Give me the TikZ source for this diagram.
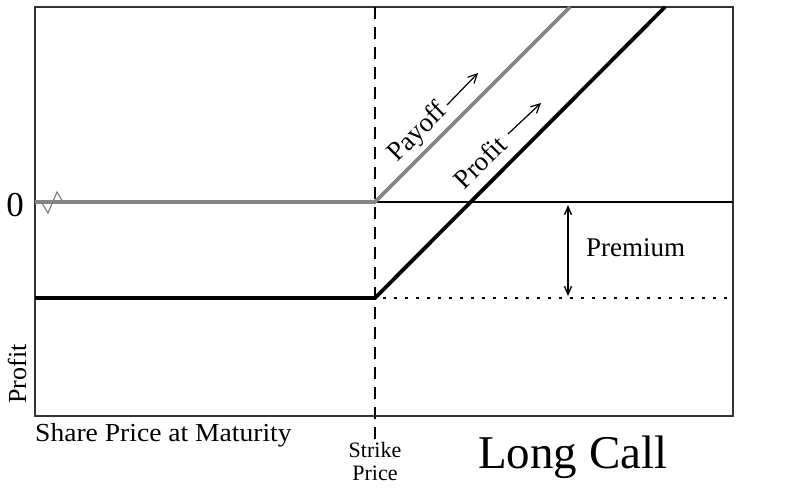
\documentclass[tikz,border=0pt]{standalone}
\usepackage{fontspec}
\setmainfont{Liberation Serif}
\usetikzlibrary{arrows.meta}
\begin{document}
\begin{tikzpicture}[x=1pt,y=-1pt,
  frame/.style={draw=black!80,line width=2pt},
  payoffline/.style={draw=black!48,line width=3.8pt},
  profitline/.style={draw=black,line width=3.8pt},
  strikeline/.style={draw=black,line width=1.6pt,dash pattern=on 12pt off 8pt},
  lbl/.style={inner sep=0pt,font=\fontsize{26}{28}\selectfont},
  tip/.style={-{Straight Barb[length=9pt,width=9pt]},line width=1.2pt}]
\useasboundingbox (0,0) rectangle (788,498);
% key points
\coordinate (tl) at (35,7);
\coordinate (br) at (733,416);
\coordinate (z0) at (35,202);
\coordinate (z1) at (733,202);
\coordinate (k0) at (375,202);
\coordinate (kp) at (375,298);
\coordinate (p0) at (35,298);
\coordinate (pe) at (733,298);
\coordinate (st) at (375,7);
\coordinate (sb) at (375,442);
\coordinate (payend) at (570,7);
\coordinate (proend) at (665,7);
% frame
\draw[frame] (tl) rectangle (br);
% zero axis
\draw[line width=1.5pt] (z0) -- (z1);
% strike dashed
\draw[strikeline] (st) -- (sb);
% premium dotted
\draw[line width=1.6pt,dash pattern=on 3pt off 8pt] (kp) ++(8,0) -- (pe);
% payoff
\draw[payoffline,line join=miter] (z0) -- (k0) -- (payend);
% profit
\draw[profitline,line join=miter] (p0) -- (kp) -- (proend);
% zigzag
\draw[black!50,line width=1.2pt] (42,203) -- (48,213) -- (57,192) -- (63,202);
% premium arrow
\coordinate (pa) at (568,205);
\coordinate (pb) at (568,296);
\draw[{Straight Barb[length=8pt,width=7pt]}-{Straight Barb[length=8pt,width=7pt]},line width=1.4pt] (pa) -- (pb);
\node[lbl,anchor=west,font=\fontsize{27}{29}\selectfont] (prem) at (586,248) {Premium};
% labels on lines
\node[lbl,rotate=45,font=\fontsize{27}{29}\selectfont] (payoff) at (418,133) {Payoff};
\coordinate (pa1) at (447,105);
\coordinate (pa2) at (478,73);
\draw[tip] (pa1) -- (pa2);
\node[lbl,rotate=45,font=\fontsize{27}{29}\selectfont] (profit) at (480,162) {Profit};
\coordinate (pr1) at (508,134);
\coordinate (pr2) at (541,103);
\draw[tip] (pr1) -- (pr2);
% axes labels
\node[lbl,font=\fontsize{35}{37}\selectfont] (zero) at (15,205) {0};
\node[lbl,rotate=90] (yl) at (17,374) {Profit};
\node[lbl,anchor=base west,xscale=1.06] (xl) at (35,441) {Share Price at Maturity};
\node[lbl,align=center,font=\fontsize{22}{23}\selectfont,anchor=north] (strike) at (375,442) {Strike\\Price};
\node[lbl,anchor=base west,font=\fontsize{47}{49}\selectfont] (title) at (478,468) {Long Call};
\end{tikzpicture}
\end{document}
